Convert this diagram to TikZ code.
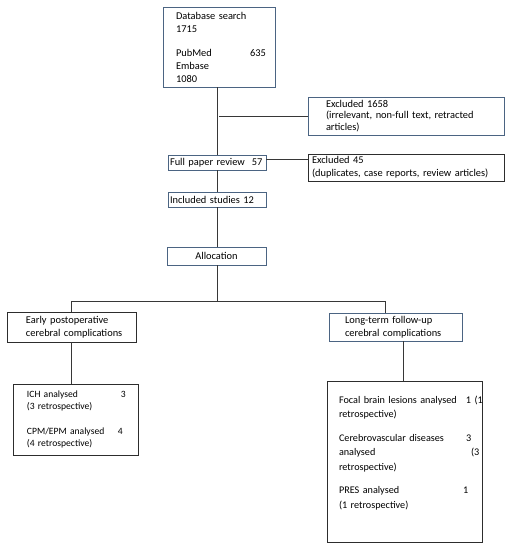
\documentclass[tikz,border=0pt]{standalone}
\usepackage{fontspec}
\setmainfont{Carlito}
\definecolor{bblue}{RGB}{75,100,130}
\definecolor{bdark}{RGB}{45,45,45}
\definecolor{lcol}{RGB}{55,55,55}
\begin{document}
\begin{tikzpicture}[x=1pt,y=-1pt,
  box/.style={draw=bblue,line width=0.9pt,inner sep=0pt,align=left,font=\fontsize{10.4}{13}\selectfont},
  dbox/.style={box,draw=bdark},
  conn/.style={draw=lcol,line width=0.9pt}]
\useasboundingbox (0,0) rectangle (511,550);
% boxes
\node[box,minimum width=112pt,minimum height=80pt,text width=86pt] (db) at (219,47)
  {Database search\\1715\\[11pt]\makebox[74pt][l]{PubMed}635\\Embase\\1080};
\node[box,minimum width=196pt,minimum height=38pt,text width=160pt,font=\fontsize{10.4}{11.5}\selectfont] (ex1) at (406,116)
  {Excluded 1658\\\mbox{(irrelevant, non-full text, retracted}\\articles)};
\node[box,minimum width=98pt,minimum height=15pt,text width=94pt] (fp) at (217,162.5)
  {\mbox{Full paper review\ \ 57}};
\node[dbox,minimum width=196pt,minimum height=27pt,text width=188pt] (ex2) at (406,167.5)
  {Excluded 45\\\mbox{(duplicates, case reports, review articles)}};
\node[box,minimum width=98pt,minimum height=15pt,text width=94pt] (inc) at (217,199.5)
  {\mbox{Included studies 12}};
\node[box,minimum width=99pt,minimum height=18pt,align=center] (alloc) at (216.5,256)
  {Allocation};
\node[dbox,minimum width=129pt,minimum height=30pt,text width=91pt] (early) at (71.5,327)
  {\mbox{Early postoperative}\\\mbox{cerebral complications}};
\node[box,minimum width=133pt,minimum height=28pt,text width=101pt] (long) at (395.5,327)
  {\mbox{Long-term follow-up}\\\mbox{cerebral complications}};
\node[dbox,minimum width=125pt,minimum height=71pt,text width=97pt,font=\fontsize{9.6}{12}\selectfont] (ich) at (75.5,419.5)
  {\makebox[94pt][l]{ICH analysed}3\\(3 retrospective)\\[13pt]\makebox[91pt][l]{CPM/EPM analysed}4\\(4 retrospective)};
\node[dbox,minimum width=155pt,minimum height=161pt,text width=131pt,font=\fontsize{10.2}{14.5}\selectfont] (rb) at (404.5,461.5)
  {\makebox[127pt][l]{Focal brain lesions analysed}\mbox{1 (1}\\retrospective)\\[9pt]\makebox[127pt][l]{Cerebrovascular diseases}3\\\makebox[132pt][l]{analysed}(3\\retrospective)\\[9pt]\makebox[124pt][l]{PRES analysed}1\\(1 retrospective)\\[4pt]\mbox{}};
% connectors
\draw[conn] (db.south -| fp.north) -- (fp.north);
\coordinate (j1) at (219,116);
\draw[conn] (j1) -- (ex1.west);
\draw[conn] ([yshift=3.5pt]fp.east) -- ([yshift=3.5pt]fp.east -| ex2.west);
\draw[conn] (fp.south) -- (inc.north);
\draw[conn] (inc.south) -- (alloc.north -| inc.south);
\coordinate (j2) at (217,301);
\coordinate (jl) at (71.5,301);
\coordinate (jr) at (385,301);
\draw[conn] (alloc.south -| j2) -- (j2);
\draw[conn] (jl) -- (jr);
\draw[conn] (jl) -- (early.north);
\draw[conn] (jr) -- (jr |- long.north);
\draw[conn] (early.south) -- (early.south |- ich.north);
\draw[conn] (403,341) -- (403,381);
\end{tikzpicture}
\end{document}
